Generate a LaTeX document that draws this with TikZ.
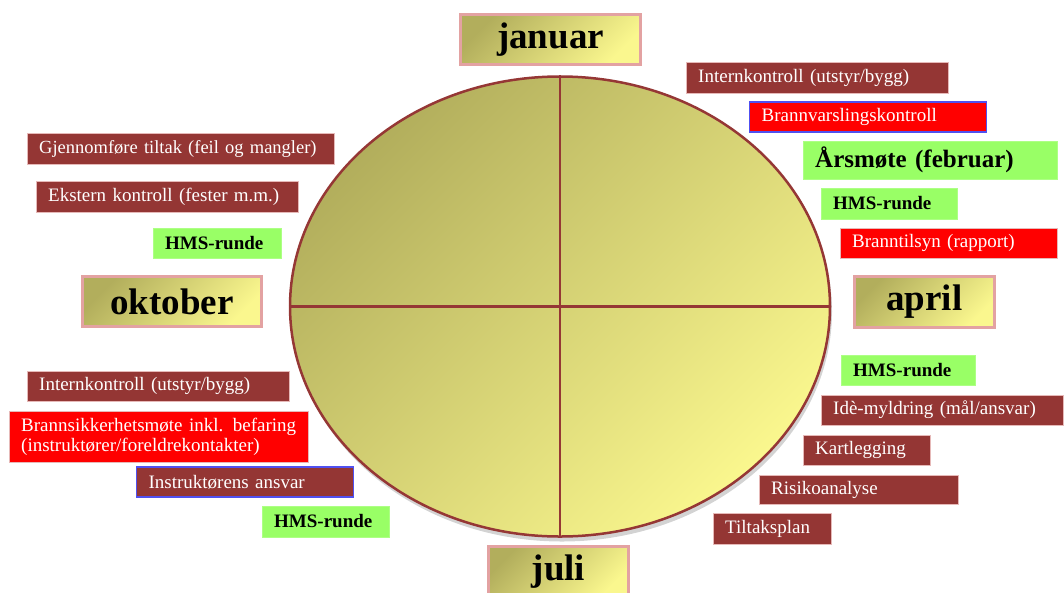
\documentclass[tikz,border=0pt]{standalone}
\usepackage{fontspec}
\setmainfont{Liberation Serif}
\usetikzlibrary{shapes.geometric,shadows}

\definecolor{wheelline}{HTML}{953735}
\definecolor{olivedark}{HTML}{B2AE5C}
\definecolor{yellowlight}{HTML}{FAF78E}
\definecolor{brownbox}{HTML}{943634}
\definecolor{pinkline}{HTML}{E6B9B8}
\definecolor{monthline}{HTML}{E3A2A2}
\definecolor{greenbox}{HTML}{99FF66}
\definecolor{blueline}{HTML}{5050F0}

\begin{document}
\begin{tikzpicture}[x=1pt, y=-1pt,
  month/.style={draw=monthline, line width=3pt, top color=olivedark, bottom color=yellowlight,
    shading angle=45, inner sep=0pt, font=\fontsize{37}{40}\selectfont\bfseries},
  note/.style={anchor=west, inner xsep=12pt, inner ysep=0pt, align=left, text width=#1,
    font=\fontsize{19}{20}\selectfont},
  brownnote/.style={note=#1, fill=brownbox, draw=pinkline, text=white},
  rednote/.style={note=#1, fill=red, draw=pinkline, text=white},
  greennote/.style={note=#1, fill=greenbox, draw=greenbox!80!white, font=\fontsize{19}{20}\selectfont\bfseries},
  blueedge/.style={draw=blueline, line width=1.2pt}]

\useasboundingbox (0,0) rectangle (1064,592);

% the year wheel
\node[ellipse, draw=wheelline, line width=2.5pt, minimum width=540pt, minimum height=460pt,
  inner sep=0pt, top color=olivedark, bottom color=yellowlight, shading angle=45,
  drop shadow={shadow xshift=2pt, shadow yshift=-5pt, opacity=0.35}] (wheel) at (560,306.5) {};
\draw[wheelline, line width=2.5pt] (wheel.north) -- (wheel.south);
\draw[wheelline, line width=2.5pt] (wheel.west) -- (wheel.east);

% months
\node[month, minimum width=180pt, minimum height=50pt] (jan) at (550.5,39.5) {januar};
\node[month, minimum width=179pt, minimum height=50pt] (okt) at (172,301.5) {oktober};
\node[month, minimum width=140pt, minimum height=51pt] (apr) at (924.5,302) {april};
\node[month, minimum width=140pt, minimum height=50pt] (jul) at (558.5,571.5) {juli};

% januar - april
\node[brownnote=238pt, minimum height=31pt] (intern1) at (686,77.5) {Internkontroll (utstyr/bygg)};
\node[rednote=213pt, blueedge, minimum height=30pt] (brannvarsling) at (749,117) {Brannvarslingskontroll};
\node[greennote=230pt, minimum height=38pt, font=\fontsize{25}{27}\selectfont\bfseries] (arsmote) at (803,160) {Årsmøte (februar)};
\node[greennote=112pt, minimum height=31pt] (hms1) at (821,203.5) {HMS-runde};
\node[rednote=193pt, minimum height=30pt] (branntilsyn) at (840,243) {Branntilsyn (rapport)};

% april - juli
\node[greennote=110pt, minimum height=30pt] (hms2) at (841,370) {HMS-runde};
\node[brownnote=218pt, minimum height=30pt] (ide) at (821,410) {Idè-myldring (mål/ansvar)};
\node[brownnote=103pt, minimum height=30pt] (kartlegging) at (803,450) {Kartlegging};
\node[brownnote=175pt, minimum height=29pt] (risiko) at (759,489.5) {Risikoanalyse};
\node[brownnote=94pt, minimum height=31pt] (tiltaksplan) at (713,528.5) {Tiltaksplan};

% juli - oktober
\node[brownnote=238pt, minimum height=30pt] (intern2) at (27,386) {Internkontroll (utstyr/bygg)};
\node[rednote=275pt, minimum height=51pt] (brannmote) at (9,436.5) {Brannsikkerhetsmøte inkl. befaring\\(instruktører/foreldrekontakter)};
\node[brownnote=193pt, blueedge, minimum height=30pt] (instruktor) at (136,482) {Instruktørens ansvar};
\node[greennote=103pt, minimum height=31pt] (hms3) at (262,521.5) {HMS-runde};

% oktober - januar
\node[brownnote=283pt, minimum height=31pt, font=\fontsize{18.5}{20}\selectfont] (tiltak) at (27,148.5) {Gjennomføre tiltak (feil og mangler)};
\node[brownnote=238pt, minimum height=31pt] (ekstern) at (36,196.5) {Ekstern kontroll (fester m.m.)};
\node[greennote=104pt, minimum height=30pt] (hms4) at (153,243) {HMS-runde};

\end{tikzpicture}
\end{document}
